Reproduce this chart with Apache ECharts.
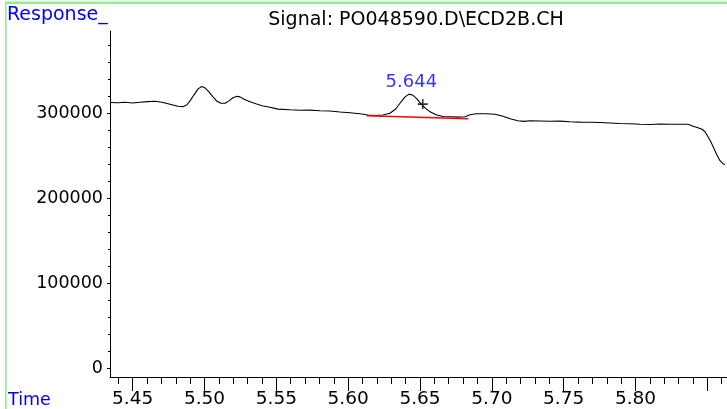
<!DOCTYPE html>
<html><head><meta charset="utf-8">
<script src="https://cdn.jsdelivr.net/npm/echarts@6/dist/echarts.min.js"></script>
<style>html,body{margin:0;padding:0;background:#fff;overflow:hidden}#c{width:727px;height:409px}</style>
</head><body><div id="c"></div>
<script>
const times = [5.4342,5.4398,5.4446,5.4502,5.4551,5.4607,5.4655,5.4704,5.4760,5.4815,5.4850,5.4878,5.4899,5.4927,5.4955,5.4980,5.5003,5.5031,5.5059,5.5087,5.5115,5.5143,5.5170,5.5198,5.5226,5.5247,5.5275,5.5317,5.5358,5.5400,5.5456,5.5512,5.5595,5.5665,5.5734,5.5804,5.5874,5.5943,5.6013,5.6082,5.6138,5.6187,5.6243,5.6291,5.6333,5.6368,5.6396,5.6424,5.6451,5.6479,5.6507,5.6535,5.6570,5.6611,5.6660,5.6709,5.6765,5.6813,5.6848,5.6890,5.6953,5.7022,5.7078,5.7127,5.7182,5.7224,5.7266,5.7335,5.7405,5.7475,5.7544,5.7614,5.7684,5.7753,5.7823,5.7892,5.7962,5.8032,5.8101,5.8171,5.8240,5.8310,5.8366,5.8401,5.8435,5.8463,5.8484,5.8505,5.8526,5.8547,5.8568,5.8588,5.8609,5.8623];
const responses = [312500,312100,312700,311900,312700,313500,313900,312700,310300,308000,307600,309800,314400,321500,328500,331200,329700,325000,319100,313900,311500,311500,314400,318000,319700,319100,316200,313300,310900,308600,306800,304700,303900,303300,303500,302700,302500,301300,300400,299200,297700,297100,297800,299800,305100,313300,319100,322300,320900,316800,310900,306200,301500,298000,296000,295700,295300,295700,298000,299200,299200,298600,296300,293300,291000,290200,291000,290700,290400,290600,289800,289400,289200,288900,288300,287700,287500,286900,286500,287100,286900,286900,286900,284500,282800,281000,278100,272200,265700,258100,250500,244000,240500,239400];
const baselineTimes = [5.6129, 5.6836];
const baselineResponses = [296800, 293300];
const peakTimes = [5.644];
const peakResponses = [322300];
const markerTimes = [5.6519];
const markerResponses = [310600];
const xLabelValues = [5.45,5.50,5.55,5.60,5.65,5.70,5.75,5.80];
const xMajorTicks = [5.45,5.50,5.55,5.60,5.65,5.70,5.75,5.80,5.85];
const xMinorTicks = [5.44,5.45,5.46,5.47,5.48,5.49,5.50,5.51,5.52,5.53,5.54,5.55,5.56,5.57,5.58,5.59,5.60,5.61,5.62,5.63,5.64,5.65,5.66,5.67,5.68,5.69,5.70,5.71,5.72,5.73,5.74,5.75,5.76,5.77,5.78,5.79,5.80,5.81,5.82,5.83,5.84,5.85,5.86];
const yLabelValues = [0,100000,200000,300000];
const yMinorTicks = [20000,40000,60000,80000,120000,140000,160000,180000,220000,240000,260000,280000,320000,340000,360000,380000];
const titleText = 'Signal: PO048590.D\\ECD2B.CH';
const yName = 'Response_';
const xName = 'Time';

const FONT = 'DejaVu Sans';
const X_MIN = 5.4342, X_MAX = 5.8637, Y_MIN = -10560, Y_MAX = 396600;
const chart = echarts.init(document.getElementById('c'), null, {renderer:'canvas'});
const xBase = {type:'value', min:X_MIN, max:X_MAX, position:'bottom', splitLine:{show:false}, gridIndex:0};
const yBase = {type:'value', min:Y_MIN, max:Y_MAX, position:'left', splitLine:{show:false}, gridIndex:0};
chart.setOption({
  animation:false,
  backgroundColor:'#fff',
  title:{text:titleText, left:416, top:11, padding:0, textAlign:'center',
    textStyle:{fontFamily:FONT, fontSize:19, fontWeight:'normal', color:'#000'}},
  grid:{left:110, right:0, top:31, bottom:31, containLabel:false},
  graphic:[
    {type:'rect', shape:{x:5, y:1.5, width:722, height:2.5}, style:{fill:'#90ee90'}, silent:true},
    {type:'rect', shape:{x:5, y:1.5, width:1.6, height:408}, style:{fill:'#90ee90'}, silent:true},
    {type:'text', left:7, top:6, style:{text:yName, fontFamily:FONT, fontSize:19, fill:'#0000ff'}},
    {type:'text', left:8, top:391, style:{text:xName, fontFamily:FONT, fontSize:17.5, fill:'#0000ff'}}
  ],
  xAxis:[
    Object.assign({}, xBase, {
      axisLine:{show:true, onZero:false, lineStyle:{color:'#000', width:1}},
      axisTick:{show:true, customValues:xMajorTicks, length:14, lineStyle:{color:'#000', width:1}},
      axisLabel:{show:true, customValues:xLabelValues, formatter:v=>Number(v).toFixed(2), fontFamily:FONT, fontSize:18.5, color:'#000', margin:13}
    }),
    Object.assign({}, xBase, {
      axisLine:{show:false, onZero:false},
      axisTick:{show:true, customValues:xMinorTicks, length:7, lineStyle:{color:'#000', width:1}},
      axisLabel:{show:false}
    })
  ],
  yAxis:[
    Object.assign({}, yBase, {
      axisLine:{show:true, onZero:false, lineStyle:{color:'#000', width:1}},
      axisTick:{show:true, customValues:yLabelValues, length:3, lineStyle:{color:'#000', width:1}},
      axisLabel:{show:true, customValues:yLabelValues, formatter:v=>String(v), fontFamily:FONT, fontSize:17.5, color:'#000', margin:7}
    }),
    Object.assign({}, yBase, {
      axisLine:{show:false, onZero:false},
      axisTick:{show:true, customValues:yMinorTicks, length:2, lineStyle:{color:'#000', width:1}},
      axisLabel:{show:false}
    })
  ],
  series:[
    {type:'line', xAxisIndex:0, yAxisIndex:0, data:times.map((t,i)=>[t,responses[i]]), symbol:'none', silent:true,
      lineStyle:{color:'#000', width:1.1}},
    {type:'line', xAxisIndex:0, yAxisIndex:0, data:baselineTimes.map((t,i)=>[t,baselineResponses[i]]), symbol:'none', silent:true,
      lineStyle:{color:'#ff0000', width:1.5}},
    {type:'scatter', xAxisIndex:0, yAxisIndex:0, data:markerTimes.map((t,i)=>[t,markerResponses[i]]), silent:true,
      symbol:'path://M4.2,0H5.8V4.2H10V5.8H5.8V10H4.2V5.8H0V4.2H4.2Z', symbolSize:10, itemStyle:{color:'#000'}},
    {type:'scatter', xAxisIndex:0, yAxisIndex:0, data:peakTimes.map((t,i)=>[t,peakResponses[i]]), silent:true,
      symbolSize:0, itemStyle:{color:'rgba(0,0,0,0)'},
      label:{show:true, position:'top', distance:3, formatter:p=>p.value[0].toFixed(3), fontFamily:FONT, fontSize:18, color:'#0000ff'}}
  ]
});
</script></body></html>
